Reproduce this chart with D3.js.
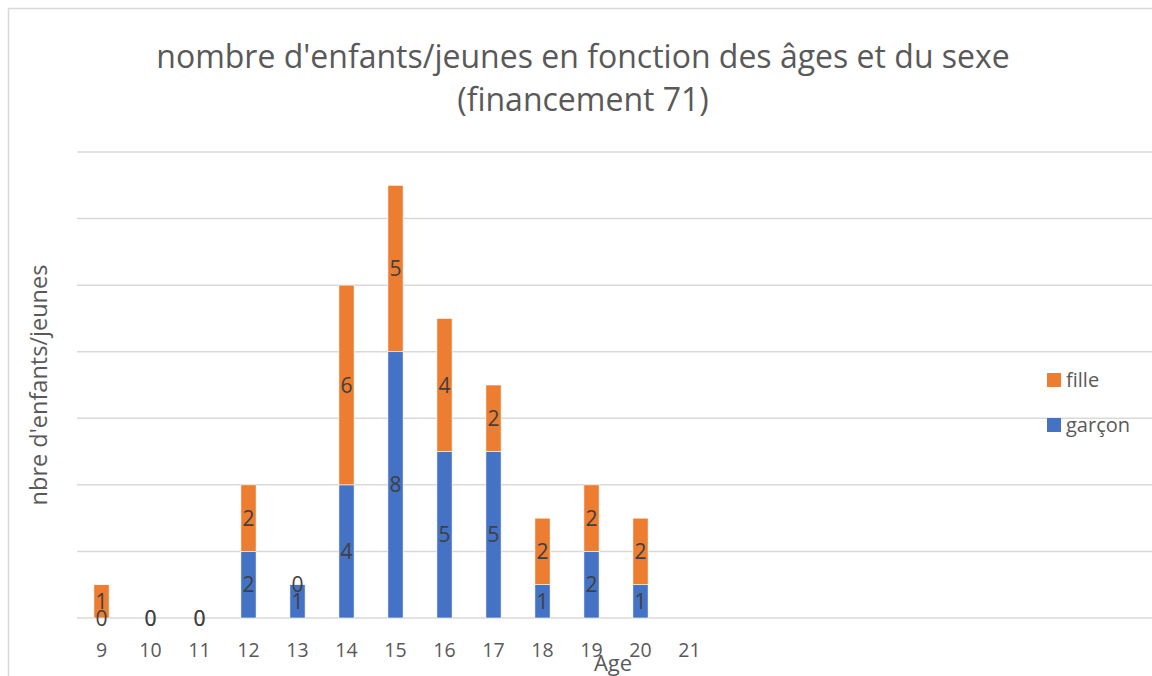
<!DOCTYPE html>
<html>
<head>
<meta charset="utf-8">
<script src="https://cdn.jsdelivr.net/npm/d3@7"></script>
<style>
  body { margin: 0; background: #fff; }
  text { font-family: "Open Sans", Lato, sans-serif; fill: #595959; }
</style>
</head>
<body>
<script>
// chart data
var ages = ["9", "10", "11", "12", "13", "14", "15", "16", "17", "18", "19", "20", "21"];
var garcon = [0, 0, 0, 2, 1, 4, 8, 5, 5, 1, 2, 1, null];
var fille = [1, 0, 0, 2, 0, 6, 5, 4, 2, 2, 2, 2, null];
var yTicks = [0, 2, 4, 6, 8, 10, 12, 14];
var seriesNames = ["garçon", "fille"];
var colors = ["#4472C4", "#ED7D31"];

var w = 1152;
var h = 676;

var svg = d3.select("body")
  .append("svg")
  .attr("width", w)
  .attr("height", h);

// chart frame (only the top / left edges are visible)
svg.append("path")
  .attr("d", "M8.5," + h + "V8.5H" + w)
  .attr("fill", "none")
  .attr("stroke", "#d9d9d9")
  .attr("stroke-width", 1.5);

var xScale = d3.scaleBand()
  .domain(ages)
  .range([77, 714])
  .paddingInner(0.69)
  .paddingOuter(0.345);

var yScale = d3.scaleLinear()
  .domain([0, 14])
  .range([618, 152]);

// gridlines
svg.selectAll("line.grid")
  .data(yTicks)
  .enter()
  .append("line")
  .attr("class", "grid")
  .attr("x1", 77)
  .attr("x2", w)
  .attr("y1", function(d) { return yScale(d); })
  .attr("y2", function(d) { return yScale(d); })
  .attr("stroke", "#d9d9d9")
  .attr("stroke-width", 1.5);

// stacked layout
var rows = ages.map(function(a, i) {
  return { age: a, "garçon": garcon[i], fille: fille[i] };
});
var stack = d3.stack().keys(seriesNames)
  .value(function(d, k) { return d[k] == null ? 0 : d[k]; });
var layers = stack(rows);

var groups = svg.selectAll("g.layer")
  .data(layers)
  .enter()
  .append("g")
  .attr("class", "layer")
  .attr("fill", function(d, i) { return colors[i]; });

groups.selectAll("rect")
  .data(function(d) { return d; })
  .enter()
  .append("rect")
  .attr("x", function(d) { return xScale(d.data.age); })
  .attr("width", xScale.bandwidth())
  .attr("y", function(d) { return yScale(d[1]); })
  .attr("height", function(d) { return yScale(d[0]) - yScale(d[1]); })
  .attr("stroke", "#fff")
  .attr("stroke-width", 0.6);

// data labels
layers.forEach(function(layer) {
  svg.append("g")
    .selectAll("text")
    .data(layer.filter(function(d) { return d.data[layer.key] != null; }))
    .enter()
    .append("text")
    .attr("x", function(d) { return xScale(d.data.age) + xScale.bandwidth() / 2; })
    .attr("y", function(d) { return yScale((d[0] + d[1]) / 2); })
    .attr("dy", "0.36em")
    .attr("text-anchor", "middle")
    .attr("font-size", "21px")
    .style("fill", "#404040")
    .text(function(d) { return d.data[layer.key]; });
});

// x axis labels
var xAxis = d3.axisBottom(xScale).tickSize(0).tickPadding(0);
var gx = svg.append("g")
  .attr("transform", "translate(0,657)")
  .call(xAxis);
gx.select(".domain").remove();
gx.selectAll("text")
  .attr("font-size", "19.5px")
  .attr("dy", "0")
  .style("font-family", "'Open Sans', sans-serif")
  .style("fill", "#595959");

// axis titles
svg.append("text")
  .attr("x", 613)
  .attr("y", 671)
  .attr("text-anchor", "middle")
  .attr("font-size", "22px")
  .text("Age");

svg.append("text")
  .attr("transform", "translate(47,385) rotate(-90)")
  .attr("text-anchor", "middle")
  .attr("font-size", "23.5px")
  .text("nbre d'enfants/jeunes");

// title
var title = svg.append("text")
  .attr("text-anchor", "middle")
  .attr("font-size", "32px");
title.append("tspan")
  .attr("x", 583)
  .attr("y", 68)
  .text("nombre d'enfants/jeunes en fonction des âges et du sexe");
title.append("tspan")
  .attr("x", 583)
  .attr("y", 111)
  .text("(financement 71)");

// legend (fille on top)
var legendItems = [{ name: "fille", color: colors[1], y: 380 }, { name: "garçon", color: colors[0], y: 425 }];
var legend = svg.selectAll("g.legend")
  .data(legendItems)
  .enter()
  .append("g")
  .attr("class", "legend")
  .attr("transform", function(d) { return "translate(1047," + d.y + ")"; });
legend.append("rect")
  .attr("x", 0)
  .attr("y", -7)
  .attr("width", 14)
  .attr("height", 14)
  .attr("fill", function(d) { return d.color; });
legend.append("text")
  .attr("x", 19)
  .attr("dy", "0.35em")
  .attr("font-size", "20px")
  .text(function(d) { return d.name; });
</script>
</body>
</html>
